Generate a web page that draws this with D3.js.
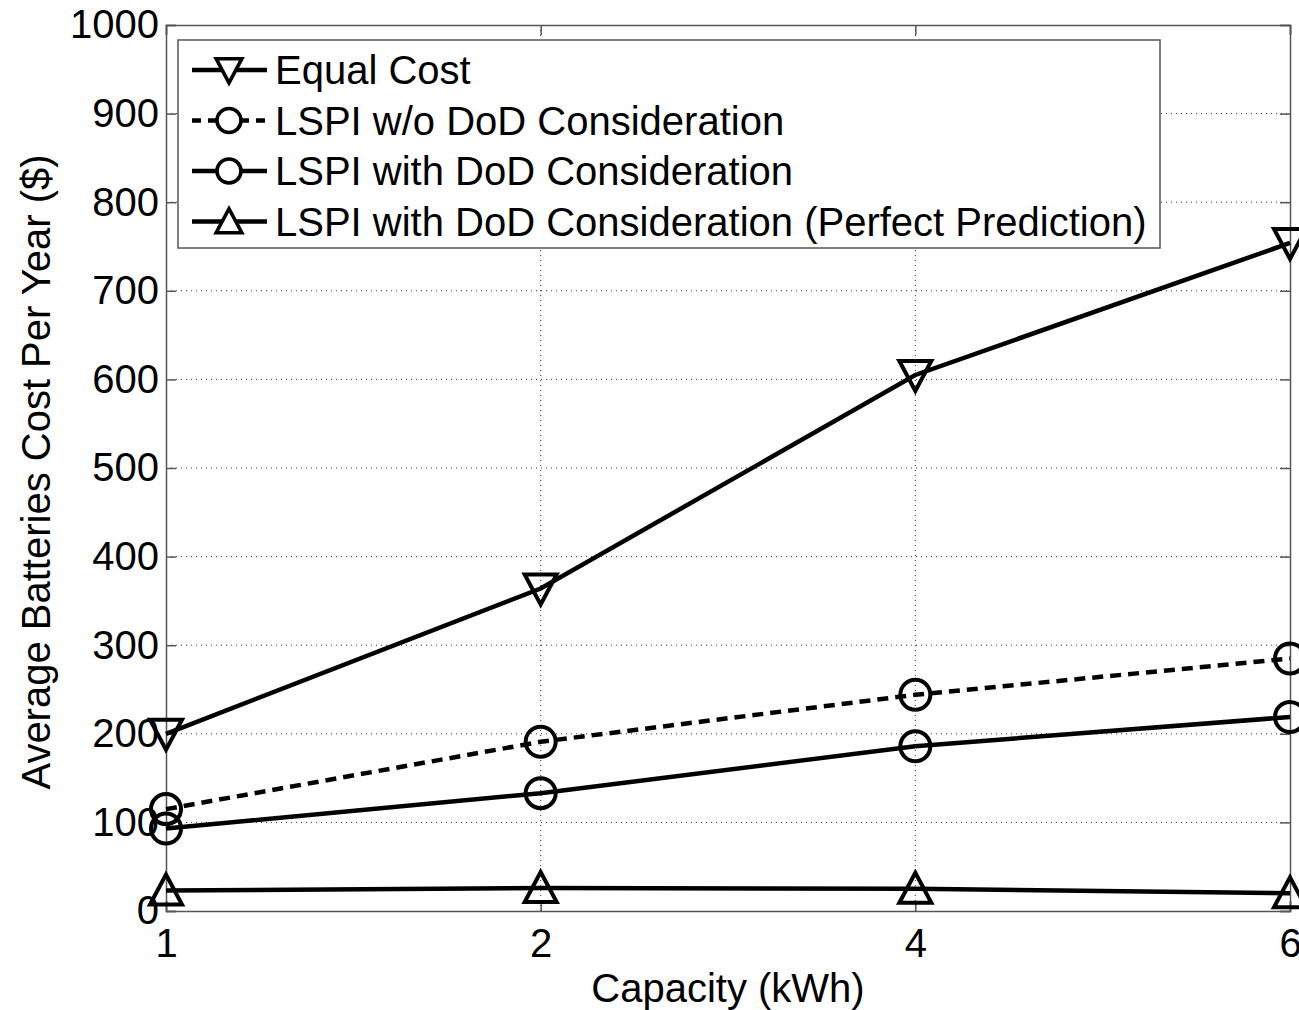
<!DOCTYPE html>
<html>
<head>
<meta charset="utf-8">
<script src="https://cdn.jsdelivr.net/npm/d3@7"></script>
<style>
  body { margin: 0; background: #fff; }
  text { font-family: "Liberation Sans", Arial, sans-serif; fill: #000; }
</style>
</head>
<body>
<svg id="drawing_region"></svg>
<script>
// capacities on the x axis
const capacities = ["1", "2", "4", "6"];
const yTicks = [0, 100, 200, 300, 400, 500, 600, 700, 800, 900, 1000];

// average batteries cost per year ($)
const equalCost      = [200, 364, 605, 754];
const lspiNoDod      = [115, 191, 244, 285];
const lspiDod        = [93, 133, 186, 219];
const lspiDodPerfect = [23, 26, 25, 20];

const seriesNames = [
    "Equal Cost",
    "LSPI w/o DoD Consideration",
    "LSPI with DoD Consideration",
    "LSPI with DoD Consideration (Perfect Prediction)"
];

const config = {
    width: 1299,
    height: 1010,
    margin: {top: 25, right: 9, bottom: 99, left: 166}
};

const series = [
    {name: seriesNames[0], values: equalCost, marker: "down", dash: null},
    {name: seriesNames[1], values: lspiNoDod, marker: "circle", dash: "11,7"},
    {name: seriesNames[2], values: lspiDod, marker: "circle", dash: null},
    {name: seriesNames[3], values: lspiDodPerfect, marker: "up", dash: null}
];

const svg = d3.select("#drawing_region")
    .attr("width", config.width)
    .attr("height", config.height);

const inner_width = config.width - config.margin.left - config.margin.right;
const inner_height = config.height - config.margin.top - config.margin.bottom;

const chart = svg.append("g")
    .attr("transform", `translate(${config.margin.left}, ${config.margin.top})`);

const xscale = d3.scalePoint()
    .domain(capacities)
    .range([0, inner_width]);

const yscale = d3.scaleLinear()
    .domain([0, 1000])
    .range([inner_height, 0]);

// dotted grid
chart.append("g").selectAll("line")
    .data(yTicks.slice(1, -1))
    .join("line")
    .attr("x1", 0).attr("x2", inner_width)
    .attr("y1", d => yscale(d)).attr("y2", d => yscale(d))
    .attr("stroke", "#333").attr("stroke-width", 1)
    .attr("stroke-dasharray", "1,4");

chart.append("g").selectAll("line")
    .data(capacities.slice(1, -1))
    .join("line")
    .attr("x1", d => xscale(d)).attr("x2", d => xscale(d))
    .attr("y1", 0).attr("y2", inner_height)
    .attr("stroke", "#333").attr("stroke-width", 1)
    .attr("stroke-dasharray", "1,4");

// axes: ticks point inward like matlab
const yaxis = d3.axisLeft(yscale).tickValues(yTicks).tickFormat(d3.format("d"))
    .tickSize(-10).tickPadding(10);
const yaxis_group = chart.append("g").call(yaxis);

const yaxis_r = d3.axisRight(yscale).tickValues(yTicks).tickSize(-10).tickFormat("");
const yaxis_r_group = chart.append("g")
    .attr("transform", `translate(${inner_width}, 0)`)
    .call(yaxis_r);

const xaxis = d3.axisBottom(xscale).tickSize(-10).tickPadding(18);
const xaxis_group = chart.append("g")
    .attr("transform", `translate(0, ${inner_height})`)
    .call(xaxis);

const xaxis_t = d3.axisTop(xscale).tickSize(-10).tickFormat("");
const xaxis_t_group = chart.append("g").call(xaxis_t);

[yaxis_group, yaxis_r_group, xaxis_group, xaxis_t_group].forEach(g => {
    g.select(".domain").attr("stroke", "#555").attr("stroke-width", 1.5);
    g.selectAll(".tick line").attr("stroke", "#555").attr("stroke-width", 1.5);
    g.selectAll(".tick text")
        .attr("font-size", "40px")
        .attr("font-family", "Liberation Sans, Arial, sans-serif")
        .attr("fill", "#000");
});
yaxis_group.selectAll(".tick text").attr("dx", "3px");

// marker shapes
function markerPath(type) {
    const h = 16;
    if (type === "down") return `M${-h},${-h + 2}L${h},${-h + 2}L0,${h}Z`;
    if (type === "up") return `M${-h},${h - 2}L${h},${h - 2}L0,${-h}Z`;
    return d3.arc()({innerRadius: 0, outerRadius: 15, startAngle: 0, endAngle: 2 * Math.PI});
}

const line = d3.line()
    .x((d, i) => xscale(capacities[i]))
    .y(d => yscale(d));

series.forEach(s => {
    chart.append("path")
        .datum(s.values)
        .attr("d", line)
        .attr("fill", "none")
        .attr("stroke", "#000")
        .attr("stroke-width", 4.5)
        .attr("stroke-dasharray", s.dash);

    chart.append("g").selectAll("path")
        .data(s.values)
        .join("path")
        .attr("transform", (d, i) => `translate(${xscale(capacities[i])}, ${yscale(d)})`)
        .attr("d", markerPath(s.marker))
        .attr("fill", "none")
        .attr("stroke", "#000")
        .attr("stroke-width", 4);
});

// axis labels
svg.append("text")
    .attr("x", config.margin.left + inner_width / 2)
    .attr("y", 1002)
    .attr("text-anchor", "middle")
    .attr("font-size", "40px")
    .text("Capacity (kWh)");

svg.append("text")
    .attr("transform", `translate(50, ${config.margin.top + inner_height / 2 + 4}) rotate(-90)`)
    .attr("text-anchor", "middle")
    .attr("font-size", "40px")
    .text("Average Batteries Cost Per Year ($)");

// legend
const legend = svg.append("g").attr("transform", "translate(178, 40)");
legend.append("rect")
    .attr("width", 982).attr("height", 208)
    .attr("fill", "#fff")
    .attr("stroke", "#555").attr("stroke-width", 1.5);

series.forEach((s, i) => {
    const cy = 30 + i * 50.5;
    const row = legend.append("g").attr("transform", `translate(0, ${cy})`);
    row.append("line")
        .attr("x1", 14).attr("x2", 89)
        .attr("y1", 0).attr("y2", 0)
        .attr("stroke", "#000").attr("stroke-width", 4.5)
        .attr("stroke-dasharray", s.dash ? "9,7" : null);
    row.append("path")
        .attr("transform", "translate(51, 0) scale(0.8)")
        .attr("d", markerPath(s.marker))
        .attr("fill", "#fff")
        .attr("stroke", "#000")
        .attr("stroke-width", 4.5);
    row.append("text")
        .attr("x", 97)
        .attr("y", 14)
        .attr("font-size", "40px")
        .text(s.name);
});
</script>
</body>
</html>
